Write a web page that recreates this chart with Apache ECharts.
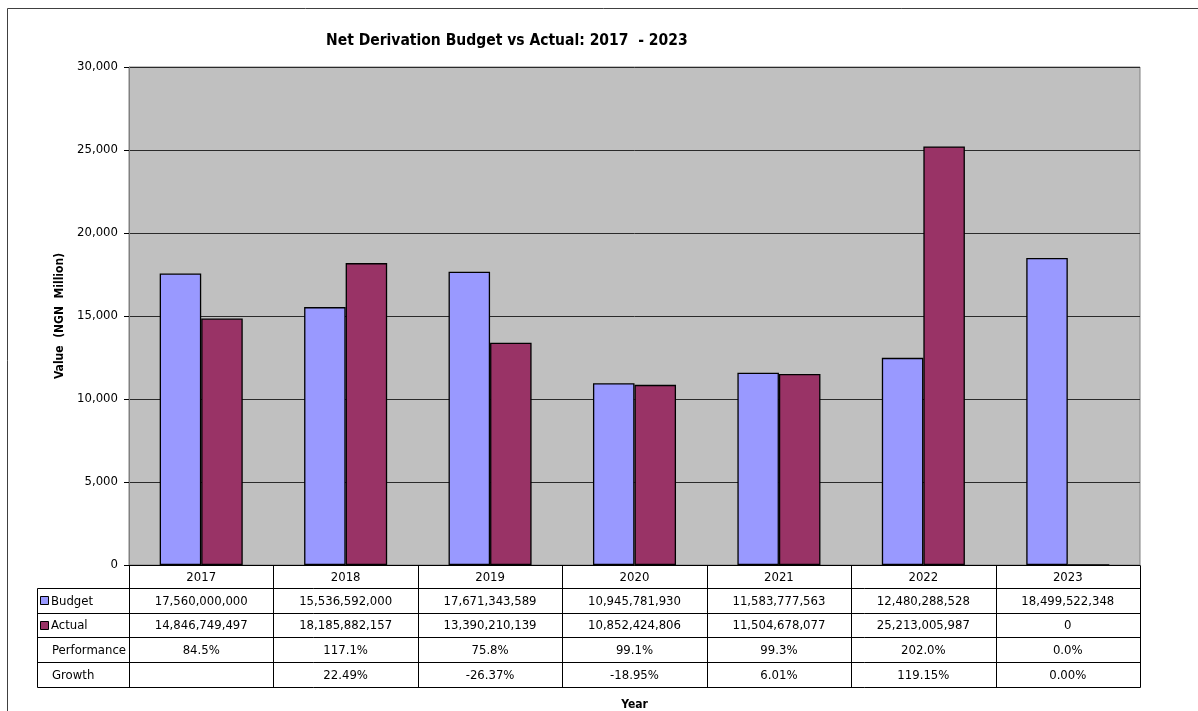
<!DOCTYPE html>
<html>
<head>
<meta charset="utf-8">
<script src="https://cdn.jsdelivr.net/npm/echarts@6/dist/echarts.min.js"></script>
<style>
html,body{margin:0;padding:0;background:#fff;overflow:hidden;}
#c{width:1198px;height:711px;}
</style>
</head>
<body>
<div id="c"></div>
<script>
const categories = ['2017', '2018', '2019', '2020', '2021', '2022', '2023'];
const budgetNaira = [17560000000, 15536592000, 17671343589, 10945781930, 11583777563, 12480288528, 18499522348];
const actualNaira = [14846749497, 18185882157, 13390210139, 10852424806, 11504678077, 25213005987, 0];
const performance = ['84.5%', '117.1%', '75.8%', '99.1%', '99.3%', '202.0%', '0.0%'];
const growth = ['', '22.49%', '-26.37%', '-18.95%', '6.01%', '119.15%', '0.00%'];
const yTicks = { min: 0, max: 30000, interval: 5000 };

const FONT = '"DejaVu Sans Condensed", "DejaVu Sans", sans-serif';
const BUDGET_COLOR = '#9999FF';
const ACTUAL_COLOR = '#993366';

const budget = budgetNaira.map(v => v / 1e6);
const actual = actualNaira.map(v => v / 1e6);
const fmt = v => v.toLocaleString('en-US');

const chart = echarts.init(document.getElementById('c'), null, { renderer: 'canvas', width: 1198, height: 711 });

const option = {
  animation: false,
  backgroundColor: '#fff',
  textStyle: { fontFamily: FONT },
  title: {
    text: 'Net Derivation Budget vs Actual: 2017  - 2023',
    left: 321,
    top: 28,
    textStyle: { fontFamily: FONT, fontWeight: 'bold', fontSize: 15.5, color: '#000' }
  },
  grid: {
    left: 129, width: 1011, top: 67, height: 498,
    outerBoundsMode: 'none', containLabel: false,
    show: true, backgroundColor: '#C0C0C0', borderColor: '#808080', borderWidth: 1
  },
  xAxis: {
    type: 'category',
    data: categories,
    name: 'Year',
    nameLocation: 'middle',
    nameGap: 134,
    nameTextStyle: { fontFamily: FONT, fontWeight: 'bold', fontSize: 12, color: '#000' },
    axisLine: { lineStyle: { color: '#000', width: 1 } },
    axisTick: { show: false },
    axisLabel: { show: false }
  },
  yAxis: {
    type: 'value',
    min: yTicks.min, max: yTicks.max, interval: yTicks.interval,
    name: 'Value  (NGN  Million)',
    nameLocation: 'middle',
    nameGap: 60,
    nameTextStyle: { fontFamily: FONT, fontWeight: 'bold', fontSize: 12, color: '#000' },
    axisLine: { show: true, lineStyle: { color: '#808080' } },
    axisTick: { show: true, length: 5, lineStyle: { color: '#000' } },
    axisLabel: { fontFamily: FONT, fontSize: 13, color: '#000', margin: 11, formatter: v => fmt(v) },
    splitLine: { lineStyle: { color: '#2a2a2a', width: 1 } }
  },
  series: [
    {
      name: 'Budget', type: 'bar', data: budget,
      barGap: '0%', barCategoryGap: '42.5%',
      itemStyle: { color: BUDGET_COLOR, borderColor: '#000', borderWidth: 1.3 }
    },
    {
      name: 'Actual', type: 'bar', data: actual,
      itemStyle: { color: ACTUAL_COLOR, borderColor: '#000', borderWidth: 1.3 }
    }
  ]
};
chart.setOption(option);

// ---- Data table drawn beneath the plot, aligned to the category axis ----
function buildTable() {
  const c0 = chart.convertToPixel({ xAxisIndex: 0 }, 0);
  const c1 = chart.convertToPixel({ xAxisIndex: 0 }, 1);
  const bw = c1 - c0;
  const xLeft = c0 - bw / 2;
  const xRight = xLeft + bw * categories.length;
  const y0 = chart.convertToPixel({ yAxisIndex: 0 }, 0);
  const tableLeft = 37;
  const headerH = 23;
  const rowH = 24.7;
  const rowsY = [y0, y0 + headerH];
  for (let i = 1; i <= 4; i++) rowsY.push(y0 + headerH + rowH * i);
  const bottom = rowsY[rowsY.length - 1];
  const px = v => Math.round(v) + 0.5;
  const els = [];
  const line = (x1, y1, x2, y2) => els.push({
    type: 'line', silent: true, z: 10,
    shape: { x1: x1, y1: y1, x2: x2, y2: y2 },
    style: { stroke: '#000', lineWidth: 1 }
  });
  const text = (x, y, s, align) => els.push({
    type: 'text', silent: true, z: 11, x: x, y: y,
    style: { text: s, fill: '#000', font: '13px ' + FONT, textAlign: align || 'center', textVerticalAlign: 'middle' }
  });
  for (let i = 0; i <= categories.length; i++) {
    const x = px(xLeft + i * bw);
    line(x, px(y0), x, px(bottom));
  }
  line(px(tableLeft), px(rowsY[1]), px(tableLeft), px(bottom));
  for (let r = 1; r < rowsY.length; r++) line(px(tableLeft), px(rowsY[r]), px(xRight), px(rowsY[r]));
  categories.forEach((cat, i) => text(xLeft + bw * (i + 0.5), (rowsY[0] + rowsY[1]) / 2 + 1, cat));
  const rows = [
    { label: 'Budget', color: BUDGET_COLOR, vals: budgetNaira.map(fmt) },
    { label: 'Actual', color: ACTUAL_COLOR, vals: actualNaira.map(fmt) },
    { label: 'Performance', color: null, vals: performance },
    { label: 'Growth', color: null, vals: growth }
  ];
  rows.forEach((row, r) => {
    const cy = (rowsY[r + 1] + rowsY[r + 2]) / 2 + 1;
    if (row.color) {
      els.push({
        type: 'rect', silent: true, z: 11,
        shape: { x: tableLeft + 3.5, y: Math.round(cy - 5) + 0.5, width: 8, height: 8 },
        style: { fill: row.color, stroke: '#000', lineWidth: 1 }
      });
      text(tableLeft + 14, cy, row.label, 'left');
    } else {
      text(tableLeft + 15, cy, row.label, 'left');
    }
    row.vals.forEach((v, i) => text(xLeft + bw * (i + 0.5), cy, v));
  });
  els.push({
    type: 'rect', silent: true, z: 0,
    shape: { x: 7.5, y: 8.5, width: 1400, height: 900 },
    style: { fill: 'none', stroke: '#404040', lineWidth: 1 }
  });
  chart.setOption({ graphic: els });
}
buildTable();
</script>
</body>
</html>
